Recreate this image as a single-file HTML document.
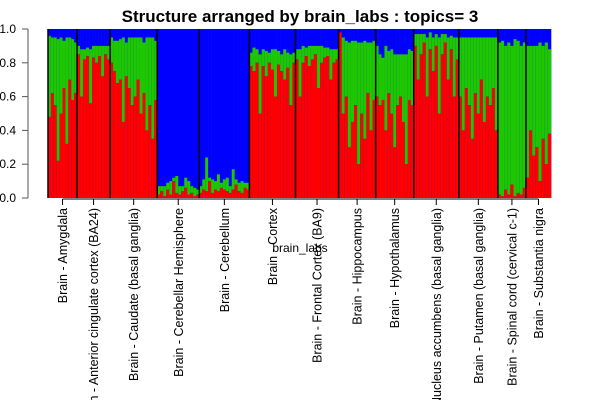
<!DOCTYPE html>
<html><head><meta charset="utf-8"><style>
html,body{margin:0;padding:0;background:#fff;width:600px;height:400px;overflow:hidden;}
svg{display:block;font-family:"Liberation Sans",Arial,sans-serif;overflow:hidden;}
</style></head><body>
<svg id="chart" width="600" height="400">
<text x="300" y="22" text-anchor="middle" font-size="17" font-weight="bold">Structure arranged by brain_labs : topics= 3</text>
<text x="300" y="252" text-anchor="middle" font-size="12">brain_labs</text>
<g id="bars"></g><g id="axes"></g>
</svg>
<script>
const groupLabels=["Brain - Amygdala","Brain - Anterior cingulate cortex (BA24)","Brain - Caudate (basal ganglia)","Brain - Cerebellar Hemisphere","Brain - Cerebellum","Brain - Cortex","Brain - Frontal Cortex (BA9)","Brain - Hippocampus","Brain - Hypothalamus","Brain - Nucleus accumbens (basal ganglia)","Brain - Putamen (basal ganglia)","Brain - Spinal cord (cervical c-1)","Brain - Substantia nigra"];
const groupSizes=[29,33,47,42,50,46,43,37,38,45,39,28,25];
const redVals=[
[.48,.62,.55,.22,.5,.65,.32,.7,.58,.62],
[.85,.6,.82,.84,.56,.83,.8,.84,.72,.85,.82],
[.8,.75,.68,.7,.45,.72,.65,.55,.6,.7,.5,.62,.4,.55,.35,.58],
[.02,.04,.01,.05,.02,.1,.03,.02,.04,.06,.02,.03,.01,.02],
[.03,.05,.04,.1,.03,.05,.04,.06,.05,.04,.03,.05,.08,.04,.03,.06,.05],
[.78,.75,.8,.5,.78,.72,.8,.76,.6,.79,.75,.7,.77,.55,.8],
[.82,.6,.8,.84,.78,.82,.85,.65,.8,.83,.84,.7,.8,.82],
[.98,.5,.6,.3,.45,.55,.2,.5,.35,.62,.4,.58],
[.6,.55,.58,.4,.62,.5,.3,.55,.6,.45,.2,.58,.55],
[.9,.7,.85,.92,.6,.88,.75,.9,.5,.85,.92,.7,.88,.6,.82],
[.6,.4,.65,.55,.35,.62,.5,.7,.45,.6,.55,.65,.4],
[.02,.01,.05,.02,.08,.01,.03,.02,.06],
[.12,.4,.25,.3,.1,.35,.2,.38]];
const greenVals=[
[.48,.33,.4,.72,.45,.28,.63,.25,.36,.3],
[.05,.28,.06,.05,.32,.07,.1,.06,.18,.05,.08],
[.15,.18,.25,.24,.5,.2,.3,.4,.35,.25,.45,.3,.55,.4,.6,.35],
[.05,.03,.06,.04,.08,.02,.1,.05,.03,.06,.08,.04,.05,.03],
[.04,.06,.2,.02,.08,.05,.1,.03,.06,.08,.04,.12,.03,.05,.07,.03,.04],
[.08,.14,.08,.35,.1,.15,.06,.12,.28,.08,.1,.18,.09,.3,.06],
[.06,.28,.1,.05,.12,.08,.05,.25,.1,.06,.05,.18,.08,.06],
[0,.45,.33,.62,.48,.38,.72,.42,.58,.3,.52,.35],
[.3,.3,.25,.5,.25,.38,.55,.3,.25,.4,.65,.3,.32],
[.07,.27,.12,.05,.35,.1,.2,.07,.45,.12,.05,.25,.08,.35,.13],
[.35,.55,.3,.4,.6,.33,.45,.25,.5,.35,.4,.3,.55],
[.9,.92,.85,.9,.82,.93,.9,.88,.86],
[.78,.5,.65,.6,.82,.55,.72,.5]];
const yTicks=["0.0","0.2","0.4","0.6","0.8","1.0"];
const NS="http://www.w3.org/2000/svg";
const X0=48,X1=551,Y0=198,Y1=29;
const y=v=>Y0-v*(Y0-Y1);
const total=groupSizes.reduce((a,b)=>a+b,0);
const sx=(X1-X0)/total;
const bars=document.getElementById('bars'),axes=document.getElementById('axes');
function mk(t,a,p){const e=document.createElementNS(NS,t);for(const k in a)e.setAttribute(k,a[k]);p.appendChild(e);return e;}
let cx=X0;const seps=[],centers=[];
groupSizes.forEach((sz,gi)=>{
 const w=sz*sx,n=redVals[gi].length,bw=w/n;
 for(let i=0;i<n;i++){
  const r=redVals[gi][i],g=greenVals[gi][i],x=cx+i*bw;
  let e=mk('rect',{x:x,y:y(1),width:bw+0.3,height:Y0-y(1),fill:'#0000ff'},bars);
  
  e=mk('rect',{x:x,y:y(r+g),width:bw+0.3,height:y(0)-y(g),fill:'#1ec800'},bars);
  
  e=mk('rect',{x:x,y:y(r),width:bw+0.3,height:y(0)-y(r),fill:'#ff0000'},bars);
  
 }
 centers.push(cx+w/2);cx+=w;seps.push(cx);
});
mk('line',{x1:X0,x2:X0,y1:Y1,y2:Y0,stroke:'#000','stroke-width':1.5},bars);
seps.slice(0,-1).forEach(s=>{const e=mk('line',{x1:s,x2:s,y1:Y1,y2:Y0,stroke:'#000','stroke-width':1.5},bars);
 });
let ya=mk('line',{x1:28,x2:28,y1:y(0),y2:y(1),stroke:'#555'},axes);

yTicks.forEach((t,i)=>{const v=i/5;
 mk('line',{x1:22,x2:28,y1:y(v),y2:y(v),stroke:'#555'},axes);
 const e=mk('text',{x:16,y:y(v)+4,'text-anchor':'end','font-size':12},axes);e.textContent=t;
 });
mk('line',{x1:centers[0],x2:centers[centers.length-1],y1:199,y2:199,stroke:'#000'},axes);
groupLabels.forEach((l,i)=>{const c=centers[i];
 mk('line',{x1:c,x2:c,y1:199,y2:205,stroke:'#000'},axes);
 const e=mk('text',{x:0,y:0,'text-anchor':'end','font-size':12.5,transform:`translate(${c+4.5},208) rotate(-90)`},axes);
 e.textContent=l;});
</script>
</body></html>
